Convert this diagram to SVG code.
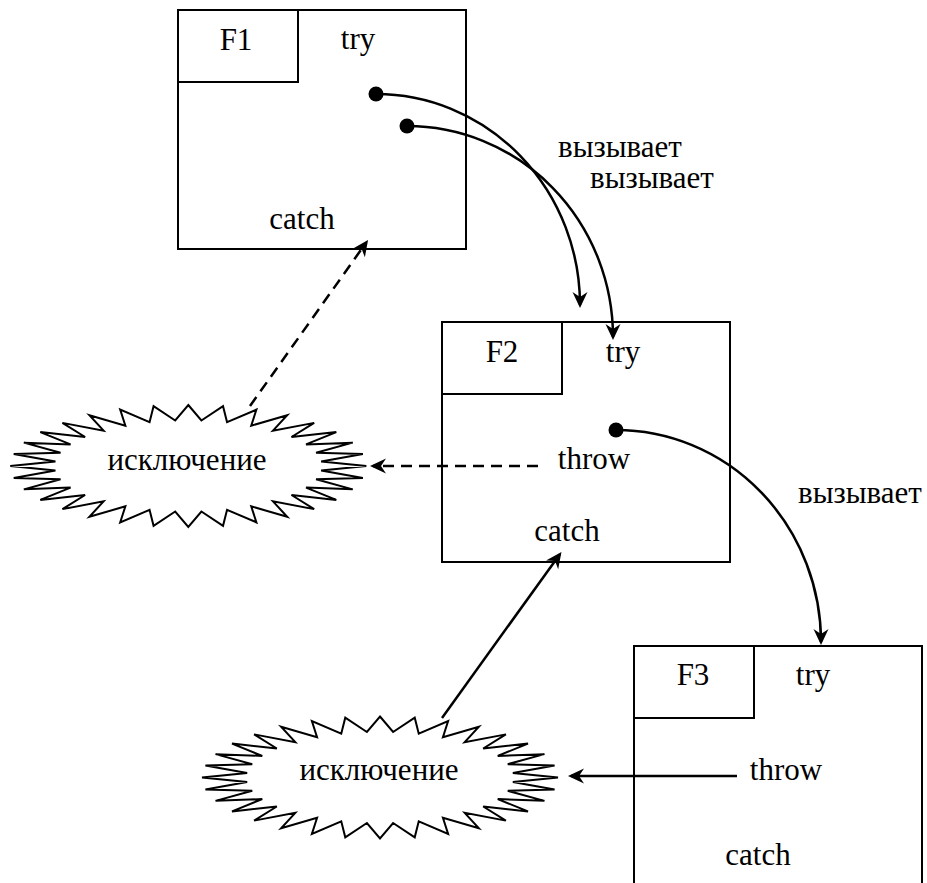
<svg xmlns="http://www.w3.org/2000/svg" xmlns:xlink="http://www.w3.org/1999/xlink" width="927" height="883" viewBox="0 0 927 883">
<style>
  .box { fill: #fff; stroke: #000; stroke-width: 2; }
  .lbl { fill: none; stroke: #000; stroke-width: 2; }
  .t { font-family: 'Liberation Serif', 'Times New Roman', serif; font-size: 31px; fill: #000; text-anchor: middle; }
  .conn { fill: none; stroke: #000; stroke-width: 2.5; }
  .dash { stroke-dasharray: 11 7; }
  .burst { fill: #fff; stroke: #000; stroke-width: 2; stroke-linejoin: miter; }
  .dot { fill: #000; }
</style>
<defs>
  <marker id="ah" markerUnits="userSpaceOnUse" markerWidth="22" markerHeight="20" viewBox="-19 -10 22 20" refX="-3" refY="0" orient="auto">
    <path d="M0,0 L-16,-7.5 L-11,0 L-16,7.5 Z" fill="#000"/>
  </marker>
  <polygon id="star32" class="burst" points="0,-61 13.09,-45.53 34.73,-59.83 38.75,-43.78 68.12,-56.36 62.93,-40.35 98.89,-50.72 84.69,-35.37 125.87,-43.13 103.2,-29.02 148,-33.89 117.74,-21.57 164.45,-23.34 127.75,-13.28 174.58,-11.9 132.86,-4.48 178,0 132.86,4.48 174.58,11.9 127.75,13.28 164.45,23.34 117.74,21.57 148,33.89 103.2,29.02 125.87,43.13 84.69,35.37 98.89,50.72 62.93,40.35 68.12,56.36 38.75,43.78 34.73,59.83 13.09,45.53 0,61 -13.09,45.53 -34.73,59.83 -38.75,43.78 -68.12,56.36 -62.93,40.35 -98.89,50.72 -84.69,35.37 -125.87,43.13 -103.2,29.02 -148,33.89 -117.74,21.57 -164.45,23.34 -127.75,13.28 -174.58,11.9 -132.86,4.48 -178,0 -132.86,-4.48 -174.58,-11.9 -127.75,-13.28 -164.45,-23.34 -117.74,-21.57 -148,-33.89 -103.2,-29.02 -125.87,-43.13 -84.69,-35.37 -98.89,-50.72 -62.93,-40.35 -68.12,-56.36 -38.75,-43.78 -34.73,-59.83 -13.09,-45.53"/>
</defs>

<g id="F1">
  <rect class="box" x="178" y="10" width="288" height="239"/>
  <rect class="lbl" x="178" y="10" width="120" height="72"/>
  <text class="t" x="236" y="50">F1</text>
  <text class="t" x="358" y="49">try</text>
  <text class="t" x="302" y="229">catch</text>
</g>

<g id="F2">
  <rect class="box" x="442" y="322" width="288" height="240"/>
  <rect class="lbl" x="442" y="322" width="120" height="72"/>
  <text class="t" x="502" y="362">F2</text>
  <text class="t" x="623" y="362">try</text>
  <text class="t" x="594" y="469">throw</text>
  <text class="t" x="567" y="541">catch</text>
</g>

<g id="F3">
  <rect class="box" x="634" y="646" width="288" height="250"/>
  <rect class="lbl" x="634" y="646" width="120" height="72"/>
  <text class="t" x="693" y="685">F3</text>
  <text class="t" x="813" y="685">try</text>
  <text class="t" x="786" y="780">throw</text>
  <text class="t" x="758" y="865">catch</text>
</g>

<g id="exception1">
  <use xlink:href="#star32" transform="translate(188.3,466)"/>
  <text class="t" x="187" y="470">исключение</text>
</g>

<g id="exception2">
  <use xlink:href="#star32" transform="translate(380,777.5)"/>
  <text class="t" x="379" y="780">исключение</text>
</g>

<g id="connectors">
  <path class="conn" d="M376,94 A204,211 0 0 1 580,305" marker-end="url(#ah)"/>
  <path class="conn" d="M407,126 A206,211 0 0 1 613,337" marker-end="url(#ah)"/>
  <path class="conn" d="M616,430 A205,212 0 0 1 821,642" marker-end="url(#ah)"/>
  <circle class="dot" cx="376" cy="94" r="7.5"/>
  <circle class="dot" cx="407" cy="126" r="7.5"/>
  <circle class="dot" cx="616" cy="430" r="7.5"/>
  <path class="conn dash" d="M250,406 L366.3,242.4" marker-end="url(#ah)"/>
  <path class="conn dash" d="M538,466 L373,466" marker-end="url(#ah)"/>
  <path class="conn" d="M442,718 L559.7,554.4" marker-end="url(#ah)"/>
  <path class="conn" d="M737,776 L571,776" marker-end="url(#ah)"/>
  <text class="t" x="620" y="157">вызывает</text>
  <text class="t" x="652" y="188">вызывает</text>
  <text class="t" x="860" y="503">вызывает</text>
</g>
</svg>
